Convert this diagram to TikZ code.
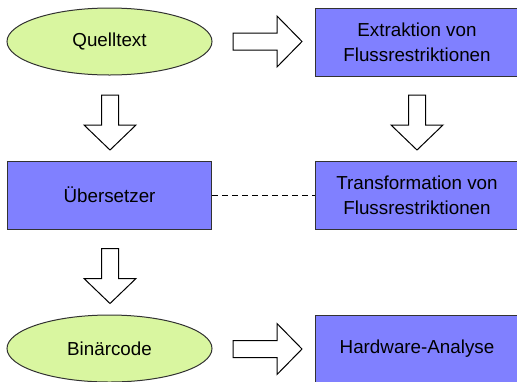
\documentclass[tikz,border=0pt]{standalone}
\usepackage{fontspec}
\setmainfont{Liberation Sans}
\usetikzlibrary{shapes.geometric}
\definecolor{quellgruen}{RGB}{217,246,160}
\definecolor{kastenblau}{RGB}{128,128,255}
\definecolor{rand}{RGB}{50,50,50}
\tikzset{
  datei/.style={ellipse,draw=rand,fill=quellgruen,line width=0.5pt,
    minimum width=102.5pt,minimum height=33.5pt,inner sep=0pt},
  schritt/.style={rectangle,draw=rand,fill=kastenblau,line width=0.5pt,
    minimum width=102pt,minimum height=34pt,inner sep=0pt,align=center},
  pfeillinie/.style={draw=black,fill=white,line width=0.5pt,line join=miter},
  pics/pfeilrechts/.style={code={
    \draw[pfeillinie] (0,-8.5) -- (44,-8.5) -- (44,-25.5) -- (69,0)
      -- (44,25.5) -- (44,8.5) -- (0,8.5) -- cycle;}},
  pics/pfeilrunter/.style={code={
    \draw[pfeillinie] (-8.5,0) -- (-8.5,30) -- (-26,30) -- (0,55)
      -- (26,30) -- (8.5,30) -- (8.5,0) -- cycle;}}
}
\begin{document}
\begin{tikzpicture}[x=0.5pt,y=-0.5pt,font=\fontsize{9.4}{12.5}\selectfont]
  \useasboundingbox (0,0) rectangle (517,381);
  \clip (0,0) rectangle (517,381);

  \node[datei]   (quelle)  at (109.5,41.5) {Quelltext};
  \node[schritt] (extrakt) at (417,42)  {Extraktion von\\Flussrestriktionen};
  \node[schritt] (uebers)  at (109.5,195) {Übersetzer};
  \node[schritt] (transf)  at (417,195) {Transformation von\\Flussrestriktionen};
  \node[datei]   (binaer)  at (109.5,348.5) {Binärcode};
  \node[schritt] (hwana)   at (417,349) {Hardware-Analyse};

  % block arrows
  \pic at (233,41.5) {pfeilrechts};
  \pic at (110,95)   {pfeilrunter};
  \pic at (417,95)   {pfeilrunter};
  \pic at (110,248.5) {pfeilrunter};
  \pic at (233,349)  {pfeilrechts};

  \draw[dash pattern=on 3pt off 2pt,line width=0.5pt] (uebers.east) -- (transf.west);
\end{tikzpicture}
\end{document}
